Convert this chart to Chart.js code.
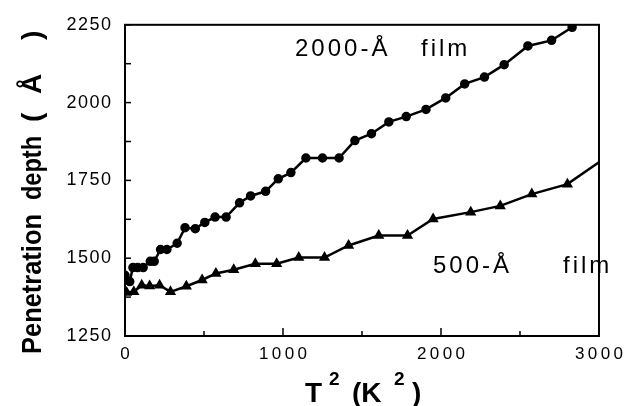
<!DOCTYPE html>
<html>
<head>
    <title>Penetration depth vs T^2</title>
    <script src="https://cdn.jsdelivr.net/npm/chart.js"></script>
    <style>
body {
    margin: 0;
    background: #fff;
}

.chart {
    position: relative;
    width: 631px;
    height: 406px;
}
    </style>
</head>
<body>
  <div class="chart">
      <canvas id="myChart"></canvas>
  </div>
    <script>
        // Data: T^2 (K^2) and penetration depth (Å)
        const x2000 = [0, 30, 50, 80, 115, 160, 185, 225, 265, 330, 380, 445, 505, 570, 640, 725, 795, 890, 970, 1050, 1145, 1250, 1355, 1455, 1560, 1670, 1780, 1905, 2030, 2150, 2275, 2400, 2550, 2700, 2830];
        const y2000 = [1445, 1425, 1470, 1470, 1470, 1490, 1490, 1528, 1528, 1548, 1598, 1595, 1615, 1632, 1632, 1678, 1700, 1715, 1755, 1775, 1822, 1822, 1822, 1878, 1900, 1938, 1955, 1978, 2015, 2060, 2082, 2122, 2182, 2200, 2242];

        const x500 = [10, 56, 106, 156, 219, 288, 388, 488, 575, 688, 825, 960, 1100, 1263, 1415, 1606, 1788, 1950, 2188, 2375, 2575, 2800, 3000];
        const y500 = [1390, 1392, 1413, 1411, 1413, 1392, 1410, 1430, 1451, 1463, 1482, 1482, 1502, 1502, 1541, 1573, 1573, 1626, 1648, 1668, 1706, 1738, 1808];

        const xTicks = [0, 1000, 2000, 3000];
        const yTicks = [1250, 1500, 1750, 2000, 2250];

        const FONT = '"Liberation Sans", Arial, sans-serif';

        function toPoints(xs, ys) {
          return xs.map((x, i) => ({ x: x, y: ys[i] }));
        }

        // squeeze a word to a given length
        function fitText(c, text, x, w) {
          const m = c.measureText(text).width;
          c.save();
          c.translate(x, 0);
          c.scale(w / m, 1);
          c.fillText(text, 0, 0);
          c.restore();
        }

        // Frame, inward ticks, annotations and axis titles
        const decorations = {
          id: 'decorations',
          afterDraw(chart) {
            const c = chart.ctx;
            const a = chart.chartArea;
            const xs = chart.scales.x;
            const ys = chart.scales.y;
            c.save();
            c.strokeStyle = '#000';
            c.fillStyle = '#000';

            // box
            c.lineWidth = 2;
            c.strokeRect(a.left, a.top, a.right - a.left, a.bottom - a.top);

            // y ticks every 125
            c.lineWidth = 1.5;
            for (let v = 1250; v <= 2250; v += 125) {
              const py = ys.getPixelForValue(v);
              c.beginPath();
              c.moveTo(a.left, py);
              c.lineTo(a.left + 6, py);
              c.stroke();
            }
            // x ticks every 500
            for (let v = 500; v < 3000; v += 500) {
              const px = xs.getPixelForValue(v);
              const len = v % 1000 === 0 ? 8 : 5;
              c.beginPath();
              c.moveTo(px, a.bottom);
              c.lineTo(px, a.bottom - len);
              c.stroke();
            }

            // series labels
            c.letterSpacing = '3px';
            c.font = '24px ' + FONT;
            c.textBaseline = 'alphabetic';
            c.textAlign = 'left';
            c.fillText('2000-Å', 295, 56);
            c.fillText('film', 421, 56);
            c.fillText('500-Å', 433, 273);
            c.fillText('film', 563, 273);
            c.letterSpacing = '0px';

            // x title: T^2 (K^2)
            c.font = 'bold 28px ' + FONT;
            c.fillText('T', 305, 402);
            c.fillText('(K', 352, 402);
            c.fillText(')', 412, 402);
            c.font = 'bold 19px ' + FONT;
            c.fillText('2', 329, 385);
            c.fillText('2', 394, 385);

            // y title, rotated
            c.translate(41, 354);
            c.rotate(-Math.PI / 2);
            c.font = 'bold 28px ' + FONT;
            fitText(c, 'Penetration', 0, 140);
            fitText(c, 'depth', 154, 64);
            c.fillText('(', 232, 0);
            c.fillText('Å', 260, 0);
            c.fillText(')', 314, 0);
            c.restore();
          }
        };

        const ctx = document.getElementById('myChart').getContext('2d');

        const depthChart = new Chart(ctx, {
          type: 'scatter',
          data: {
            datasets: [
              {
                label: '2000-Å film',
                data: toPoints(x2000, y2000),
                showLine: true,
                borderColor: '#000',
                backgroundColor: '#000',
                borderWidth: 2.5,
                pointStyle: 'circle',
                pointRadius: 3.5,
                tension: 0,
              },
              {
                label: '500-Å film',
                data: toPoints(x500, y500),
                showLine: true,
                borderColor: '#000',
                backgroundColor: '#000',
                borderWidth: 2.5,
                pointStyle: 'triangle',
                pointRadius: (p) => (p.dataIndex === x500.length - 1 ? 0 : 4),
                tension: 0,
              },
            ],
          },
          options: {
            responsive: true,
            maintainAspectRatio: false,
            animation: false,
            layout: {
              padding: { top: 17, right: 27, left: 0, bottom: 0 },
            },
            plugins: {
              legend: { display: false },
              tooltip: { enabled: false },
            },
            scales: {
              x: {
                type: 'linear',
                min: 0,
                max: 3000,
                grid: { display: false, drawTicks: false },
                border: { display: false },
                afterFit: (s) => { s.height = 70; },
                afterBuildTicks: (s) => { s.ticks = xTicks.map(v => ({ value: v })); },
                ticks: {
                  padding: 8,
                  color: '#000',
                  maxRotation: 0,
                  font: { size: 17, family: FONT },
                  callback: (v) => String(v).split('').join('\u2009'),
                },
              },
              y: {
                type: 'linear',
                min: 1250,
                max: 2250,
                grid: { display: false, drawTicks: false },
                border: { display: false },
                afterFit: (s) => { s.width = 125; },
                afterBuildTicks: (s) => { s.ticks = yTicks.map(v => ({ value: v })); },
                ticks: {
                  padding: 14,
                  color: '#000',
                  font: { size: 18, family: FONT },
                  callback: (v) => String(v).split('').join('\u200A'),
                },
              },
            },
          },
          plugins: [decorations],
        });
    </script>
</body>
</html>
